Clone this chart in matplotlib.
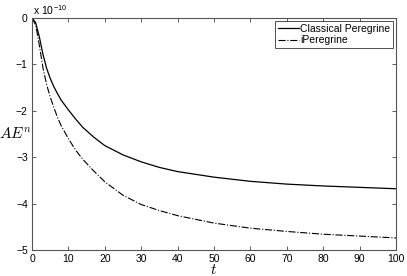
import matplotlib
matplotlib.use("Agg")
import matplotlib.pyplot as plt

t_vals = [0, 1, 2, 3, 4, 5, 6, 7, 8, 10, 12, 14, 17, 20, 25, 30, 35, 40, 50, 60, 70, 80, 90, 100]
classical = [0, -0.1, -0.4, -0.78, -1.08, -1.3, -1.48, -1.63, -1.77, -1.98, -2.18, -2.36, -2.57,
             -2.75, -2.95, -3.1, -3.22, -3.31, -3.43, -3.52, -3.58, -3.62, -3.65, -3.68]
iperegrine = [0, -0.15, -0.58, -1.07, -1.43, -1.7, -1.93, -2.14, -2.32, -2.6, -2.85, -3.05, -3.3,
              -3.53, -3.82, -4.02, -4.15, -4.26, -4.42, -4.53, -4.60, -4.66, -4.70, -4.74]
xticks = [0, 10, 20, 30, 40, 50, 60, 70, 80, 90, 100]
yticks = [0, -1, -2, -3, -4, -5]

plt.rcParams['font.family'] = ['Liberation Sans', 'DejaVu Sans']
plt.rcParams['mathtext.fontset'] = 'cm'

fig = plt.figure(figsize=(4.07, 2.76), dpi=100)
ax = fig.add_axes([32/407, 1-250/276, 364/407, 232/276])
ax.plot(t_vals, classical, '-', color='black', lw=0.9, label='Classical Peregrine')
ax.plot(t_vals, iperegrine, '-.', color='black', lw=0.8, label='iPeregrine')
ax.set_xlim(0, 100)
ax.set_ylim(-5, 0)
ax.set_xticks(xticks)
ax.set_yticks(yticks)
ax.set_yticklabels([str(v).replace('-', '\u2212') for v in yticks])
ax.tick_params(direction='in', top=True, right=True, labelsize=7.5, length=3, width=0.6,
               pad=3, colors='#444444', labelcolor='black')
for s in ax.spines.values():
    s.set_linewidth(0.8)
    s.set_color('#555555')
ax.set_xlabel('$t$', fontsize=11)
ax.xaxis.set_label_coords(0.5, -0.058)
ax.set_ylabel('$AE^n$', fontsize=11, rotation=0, labelpad=2)
ax.yaxis.set_label_coords(-0.045, 0.47)
ax.text(0.003, 1.005, 'x 10$^{\\mathregular{-10}}$', transform=ax.transAxes, fontsize=7.5,
        ha='left', va='bottom')
leg = ax.legend(loc='upper right', fontsize=7.5, frameon=True, fancybox=False,
                borderaxespad=0.3, handlelength=2.0, borderpad=0.25, labelspacing=0.15,
                handletextpad=0.15)
leg.get_frame().set_edgecolor('black')
leg.get_frame().set_linewidth(0.6)
fig.savefig('out.png', dpi=100)
